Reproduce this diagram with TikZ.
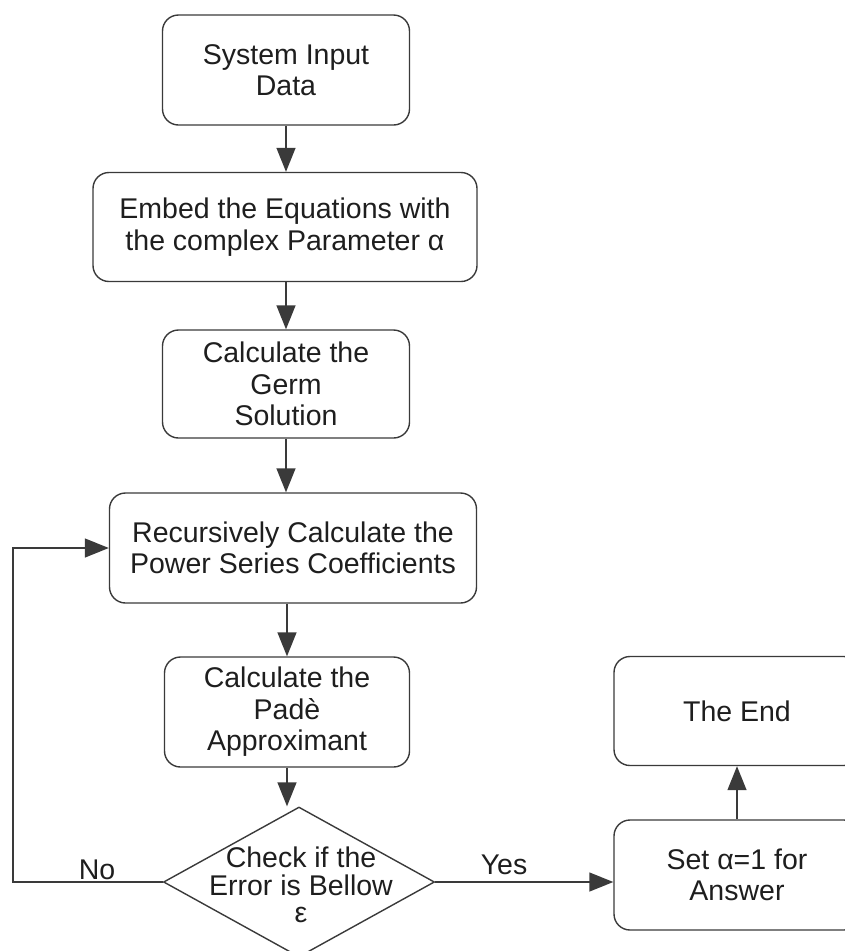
\documentclass[tikz,border=0pt]{standalone}
\usepackage{fontspec}
\setmainfont{Liberation Sans}
\usepackage{xcolor}
\usepackage{tikz}
\usetikzlibrary{shapes,arrows,positioning,calc,arrows.meta}

\definecolor{linecol}{HTML}{3A3A3A}
\definecolor{txtcol}{HTML}{1E1E1E}

\tikzset{
  block/.style={draw=linecol, line width=1.4pt, rounded corners=16pt, align=center,
    inner sep=0pt, text=txtcol, font=\fontsize{28.5}{31.5}\selectfont},
  decision/.style={draw=linecol, line width=1.4pt, diamond, inner sep=0pt,
    minimum width=271pt, minimum height=150pt},
  lbl/.style={align=center, text=txtcol, font=\fontsize{28.5}{27.5}\selectfont},
  arr/.style={draw=linecol, line width=1.4pt, -{Triangle[length=24pt,width=19pt]}}
}

\begin{document}
\begin{tikzpicture}[x=1pt, y=-1pt]
    \useasboundingbox (0,0) rectangle (845,951);
    \clip (0,0) rectangle (845,951);

    % main column
    \node[block, minimum width=247pt, minimum height=110pt] (input) at (286, 70) {System Input\\Data};
    \node[block, minimum width=384pt, minimum height=109pt] (embed) at (285, 227) {Embed the Equations with\\the complex Parameter α};
    \node[block, minimum width=247pt, minimum height=108pt] (germ) at (286, 384) {Calculate the\\Germ\\Solution};
    \node[block, minimum width=367pt, minimum height=110pt] (coeff) at (293, 548) {Recursively Calculate the\\Power Series Coefficients};
    \node[block, minimum width=245pt, minimum height=110pt] (pade) at (287, 712) {Calculate the\\Padè\\Approximant};

    % check
    \node[decision] (check) at (299, 882) {};
    \node[lbl] (checktxt) at (301, 885) {Check if the\\Error is Bellow\\ε};

    % right column
    \node[block, minimum width=246pt, minimum height=110pt] (setone) at (737, 875) {Set α=1 for\\Answer};
    \node[block, minimum width=246pt, minimum height=109pt] (theend) at (737, 711) {The End};

    \coordinate (loopbot) at (13, 882);
    \coordinate (looptop) at (13, 548);

    \draw[arr] (input) -- (input |- embed.north);
    \draw[arr] (input |- embed.south) -- (germ);
    \draw[arr] (germ.south) -- (germ.south |- coeff.north);
    \draw[arr] (coeff.south -| pade.north) -- (pade);
    \draw[arr] (pade) -- (check.north -| pade.south);

    % no: back to coefficients
    \draw[arr] (check.west) -- (loopbot) -- (looptop) -- (coeff.west);
    \node[lbl] (nolbl) at (97, 870) {No};

    % yes: to answer
    \draw[arr] (check.east) -- (check.east -| setone.west);
    \node[lbl] (yeslbl) at (504, 865) {Yes};

    \draw[arr] (setone) -- (theend);
\end{tikzpicture}
\end{document}
